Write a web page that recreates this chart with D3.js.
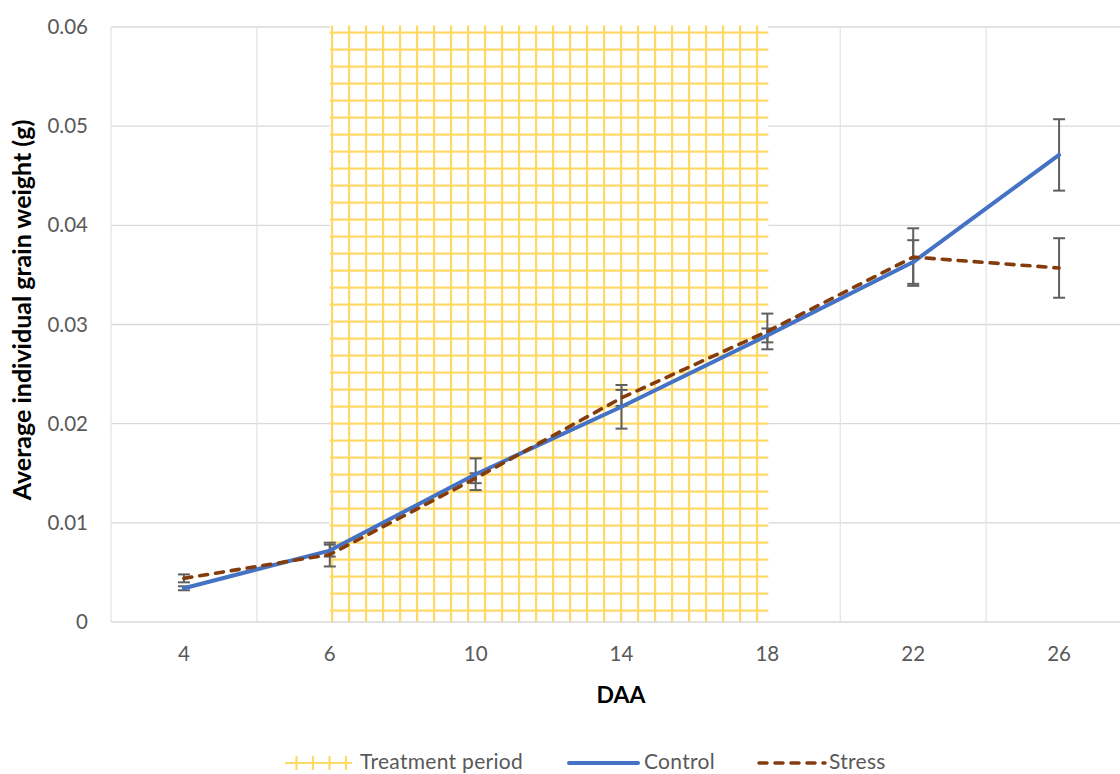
<!DOCTYPE html>
<html>
<head>
<meta charset="utf-8">
<script src="https://cdn.jsdelivr.net/npm/d3@7"></script>
<style>
  html, body { margin: 0; padding: 0; background: #fff; }
  svg { display: block; font-family: Lato, "Open Sans", sans-serif; }
</style>
</head>
<body>
<svg id="chart" width="1120" height="774"></svg>
<script>
// ---- data ----
const categories = ["4", "6", "10", "14", "18", "22", "26"];
const controlValues = [0.0034, 0.0072, 0.0149, 0.0217, 0.0289, 0.0363, 0.0471];
const controlErrors = [0.0002, 0.0006, 0.0016, 0.0022, 0.0007, 0.0022, 0.0036];
const stressValues = [0.0044, 0.0068, 0.0145, 0.0226, 0.0293, 0.0368, 0.0357];
const stressErrors = [0.0004, 0.0012, 0.0005, 0.0008, 0.0018, 0.0029, 0.0030];
const treatmentStart = "6";
const treatmentEnd = "18";
const treatmentTop = 0.06;
const yTicks = [0, 0.01, 0.02, 0.03, 0.04, 0.05, 0.06];
const legendLabels = ["Treatment period", "Control", "Stress"];
const xTitle = "DAA";
const yTitle = "Average individual grain weight (g)";

// ---- layout ----
const svg = d3.select("#chart");
const plot = { left: 111, top: 27, right: 1132, bottom: 622 };
const x = d3.scaleBand().domain(categories).range([plot.left, plot.right]).paddingInner(0).paddingOuter(0);
const cx = c => x(c) + x.bandwidth() / 2;
const y = d3.scaleLinear().domain([0, 0.06]).range([plot.bottom, plot.top]);

const textColor = "#595959";
const gridColor = "#d9d9d9";
const yellow = "#FFD966";
const blue = "#4472C4";
const brown = "#843C0C";
const errColor = "#5f5f5f";

// pattern for treatment period
const defs = svg.append("defs");
const pat = defs.append("pattern")
  .attr("id", "grid")
  .attr("patternUnits", "userSpaceOnUse")
  .attr("x", 0).attr("y", 0)
  .attr("width", 17).attr("height", 17);
pat.append("rect").attr("width", 17).attr("height", 17).attr("fill", "#fff");
pat.append("rect").attr("x", 8).attr("y", 0).attr("width", 2.2).attr("height", 17).attr("fill", yellow);
pat.append("rect").attr("x", 0).attr("y", 14.5).attr("width", 17).attr("height", 2.2).attr("fill", yellow);

// horizontal gridlines
svg.append("g")
  .selectAll("line")
  .data(yTicks.filter(d => d > 0))
  .join("line")
  .attr("x1", plot.left).attr("x2", plot.right)
  .attr("y1", d => y(d)).attr("y2", d => y(d))
  .attr("stroke", gridColor).attr("stroke-width", 1.3);

// vertical gridlines at category boundaries
const boundaries = categories.map(c => x(c)).concat([plot.right]);
svg.append("g")
  .selectAll("line")
  .data(boundaries)
  .join("line")
  .attr("x1", d => d).attr("x2", d => d)
  .attr("y1", plot.top).attr("y2", plot.bottom)
  .attr("stroke", "#e3e3e3").attr("stroke-width", 1.2);

// treatment period region
svg.append("rect")
  .attr("x", cx(treatmentStart))
  .attr("y", y(treatmentTop) - 1.5)
  .attr("width", cx(treatmentEnd) - cx(treatmentStart) + 1)
  .attr("height", y(0) - y(treatmentTop) + 1.5)
  .attr("fill", "url(#grid)");

// x axis line
svg.append("line")
  .attr("x1", plot.left).attr("x2", plot.right)
  .attr("y1", y(0)).attr("y2", y(0))
  .attr("stroke", gridColor).attr("stroke-width", 1.5);

// y axis tick labels
const yAxis = d3.axisLeft(y).tickValues(yTicks).tickSize(0).tickPadding(0)
  .tickFormat(d => d === 0 ? "0" : d3.format(".2f")(d));
const gy = svg.append("g").attr("transform", `translate(88,0)`).call(yAxis);
gy.select(".domain").remove();
gy.selectAll("text").attr("fill", textColor).style("font-size", "20.5px").style("font-family", "Lato, sans-serif");

// x axis tick labels
const xAxis = d3.axisBottom(x).tickSize(0).tickPadding(0);
const gx = svg.append("g").attr("transform", `translate(0,646)`).call(xAxis);
gx.select(".domain").remove();
gx.selectAll("text").attr("fill", textColor).style("font-size", "20.5px").style("font-family", "Lato, sans-serif");

// error bars
function errorBars(values, errors) {
  const g = svg.append("g");
  const data = categories.map((c, i) => ({ c, v: values[i], e: errors[i] }));
  g.selectAll("line.v").data(data).join("line").attr("class", "v")
    .attr("x1", d => cx(d.c)).attr("x2", d => cx(d.c))
    .attr("y1", d => y(d.v - d.e)).attr("y2", d => y(d.v + d.e))
    .attr("stroke", errColor).attr("stroke-width", 2);
  g.selectAll("line.t").data(data).join("line").attr("class", "t")
    .attr("x1", d => cx(d.c) - 6).attr("x2", d => cx(d.c) + 6)
    .attr("y1", d => y(d.v + d.e)).attr("y2", d => y(d.v + d.e))
    .attr("stroke", errColor).attr("stroke-width", 2);
  g.selectAll("line.b").data(data).join("line").attr("class", "b")
    .attr("x1", d => cx(d.c) - 6).attr("x2", d => cx(d.c) + 6)
    .attr("y1", d => y(d.v - d.e)).attr("y2", d => y(d.v - d.e))
    .attr("stroke", errColor).attr("stroke-width", 2);
}
errorBars(controlValues, controlErrors);
errorBars(stressValues, stressErrors);

// lines
const line = d3.line().x(d => cx(d.c)).y(d => y(d.v));
svg.append("path")
  .datum(categories.map((c, i) => ({ c, v: controlValues[i] })))
  .attr("d", line)
  .attr("fill", "none").attr("stroke", blue).attr("stroke-width", 4)
  .attr("stroke-linejoin", "round").attr("stroke-linecap", "round");
svg.append("path")
  .datum(categories.map((c, i) => ({ c, v: stressValues[i] })))
  .attr("d", line)
  .attr("fill", "none").attr("stroke", brown).attr("stroke-width", 3.6)
  .attr("stroke-dasharray", "8,8")
  .attr("stroke-linejoin", "round").attr("stroke-linecap", "round");

// axis titles
svg.append("text")
  .attr("x", 621).attr("y", 703)
  .attr("text-anchor", "middle")
  .attr("fill", "#000").style("font-weight", "bold").style("font-size", "23px")
  .text(xTitle);
svg.append("text")
  .attr("transform", `translate(31,310) rotate(-90)`)
  .attr("text-anchor", "middle")
  .attr("fill", "#000").style("font-weight", "bold").style("font-size", "25px")
  .text(yTitle);

// legend
const ly = 763;
const lfs = "21px";
const lg = svg.append("g");
// treatment symbol
lg.append("line").attr("x1", 285).attr("x2", 352).attr("y1", ly).attr("y2", ly)
  .attr("stroke", yellow).attr("stroke-width", 2.2);
lg.selectAll("line.tick").data([296.5, 313, 329.5, 346]).join("line").attr("class", "tick")
  .attr("x1", d => d).attr("x2", d => d).attr("y1", ly - 7).attr("y2", ly + 7)
  .attr("stroke", yellow).attr("stroke-width", 2.2);
lg.append("text").attr("x", 360).attr("y", ly + 6).attr("fill", textColor)
  .style("font-size", lfs).style("letter-spacing", "0.3px").text(legendLabels[0]);
// control
lg.append("line").attr("x1", 569).attr("x2", 638).attr("y1", ly).attr("y2", ly)
  .attr("stroke", blue).attr("stroke-width", 4).attr("stroke-linecap", "round");
lg.append("text").attr("x", 644).attr("y", ly + 6).attr("fill", textColor)
  .style("font-size", lfs).style("letter-spacing", "0.3px").text(legendLabels[1]);
// stress
lg.append("line").attr("x1", 759).attr("x2", 825).attr("y1", ly).attr("y2", ly)
  .attr("stroke", brown).attr("stroke-width", 3.5).attr("stroke-dasharray", "8,8").attr("stroke-linecap", "round");
lg.append("text").attr("x", 829).attr("y", ly + 6).attr("fill", textColor)
  .style("font-size", lfs).style("letter-spacing", "0.3px").text(legendLabels[2]);
</script>
</body>
</html>
